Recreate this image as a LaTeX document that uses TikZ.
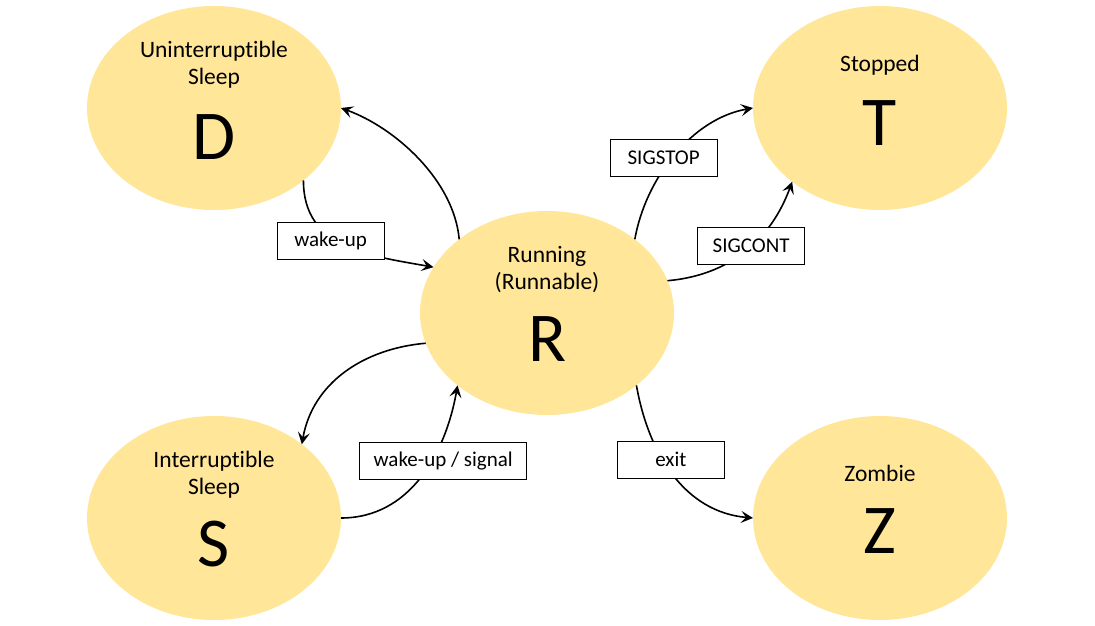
\documentclass[tikz,border=0pt]{standalone}
\usepackage{fontspec}
\setmainfont{Carlito}[Ligatures=NoCommon]
\usetikzlibrary{shapes.geometric, arrows.meta}
\definecolor{statefill}{RGB}{255,230,153}

\begin{document}
\begin{tikzpicture}[x=1pt, y=1pt, line width=1.6pt,
    >={Stealth[length=12pt, width=12pt, inset=5pt]},
    state/.style={ellipse, fill=statefill, minimum width=254pt, minimum height=204pt, inner sep=0pt, outer sep=0pt},
    title/.style={anchor=base, align=center, font=\fontsize{23.5}{27}\selectfont},
    letter/.style={anchor=base, font=\fontsize{70}{70}\selectfont},
    sig/.style={draw, fill=white, line width=1pt, minimum width=107pt, minimum height=37pt, inner xsep=14pt, font=\fontsize{21}{24}\selectfont}]
    \useasboundingbox (0,0) rectangle (1095,626);
    % States
    \node[state] (D) at (214,518) {};
    \node[state] (T) at (880,518) {};
    \node[state] (R) at (547,313) {};
    \node[state] (S) at (214,108) {};
    \node[state] (Z) at (880,108) {};
    % Names and letters
    \node[title] (Dname) at ([yshift=23pt]D.center) {Uninterruptible\\Sleep};
    \node[letter] (Dlet) at ([yshift=-52pt]D.center) {D};
    \node[title] (Tname) at ([yshift=36pt]T.center) {Stopped};
    \node[letter] (Tlet) at ([yshift=-38pt]T.center) {T};
    \node[title] (Rname) at ([yshift=23pt]R.center) {Running\\(Runnable)};
    \node[letter] (Rlet) at ([yshift=-49pt]R.center) {R};
    \node[title] (Sname) at ([yshift=23pt]S.center) {Interruptible\\Sleep};
    \node[letter] (Slet) at ([yshift=-49pt]S.center) {S};
    \node[title] (Zname) at ([yshift=36pt]Z.center) {Zombie};
    \node[letter] (Zlet) at ([yshift=-36pt]Z.center) {Z};
    % Transitions
    \draw[->] (R.140) to[out=95, in=-20, looseness=0.85] (D.0);
    \draw[->] (D.321) to[out=-90, in=170, looseness=1.1] node[sig, pos=0.45, xshift=-6pt] {wake-up} (R.158);
    \draw[->] (R.40) to[out=80, in=190, looseness=0.9] node[sig, pos=0.48, xshift=-9pt] {SIGSTOP} (T.180);
    \draw[->] (R.15) to[out=5, in=-110] node[sig, pos=0.55] {SIGCONT} (T.220);
    \draw[->] (R.194) to[out=185, in=80] (S.40);
    \draw[->] (S.0) to[out=0, in=-100] node[sig, pos=0.6, xshift=12pt] {wake-up / signal} (R.219);
    \draw[->] (R.321) to[out=-80, in=175] node[sig, pos=0.4, xshift=8pt] {exit} (Z.180);
\end{tikzpicture}
\end{document}
